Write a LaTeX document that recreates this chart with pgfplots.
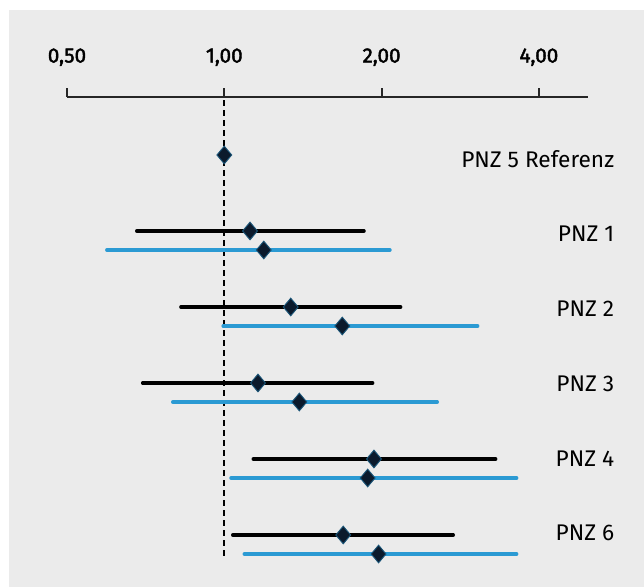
\documentclass[border=0pt]{standalone}
\usepackage{fontspec}
\setmainfont{Fira Sans}
\newfontfamily\tickfont[FakeBold=2]{Fira Sans}
\usepackage{pgfplots}
\pgfplotsset{compat=1.18}
\definecolor{bg}{HTML}{EBEBEB}
\definecolor{pblue}{HTML}{2B9AD3}
\definecolor{navy}{HTML}{0B1A2C}
\begin{document}
\begin{tikzpicture}
\useasboundingbox (-50.25pt,-20.25pt) rectangle (432.75pt,420pt);
\fill[white] (-50.25pt,-20.25pt) rectangle (432.75pt,420pt);
\fill[bg] (-43.5pt,-20.25pt) rectangle (432.75pt,412.5pt);
\begin{axis}[
  at={(0pt,0pt)}, anchor=south west,
  scale only axis, width=390.75pt, height=347.25pt,
  xmode=log, log basis x=2, xmin=0.5, xmax=4.966,
  ymin=-5.329, ymax=0.763,
  axis x line=top, axis y line=none,
  axis line style={-, line width=1.9pt, black!85},
  xtick={0.5,1,2,4}, xticklabels={{0,50},{1,00},{2,00},{4,00}},
  xminorticks=false,
  tick align=outside, major tick length=6.75pt,
  tick style={line width=1.4pt, black!85},
  xticklabel style={font=\tickfont\fontsize{15.5}{18}\selectfont, yshift=13pt},
  clip=false,
]
\addplot[black, line width=1.3pt, dash pattern=on 4.5pt off 3pt] coordinates {(1,0.72) (1,-5.33)};
% black CIs
\addplot[black, line width=2.6pt, line cap=round] coordinates {(0.680,-1) (1.851,-1)};
\addplot[black, line width=2.6pt, line cap=round] coordinates {(0.826,-2) (2.175,-2)};
\addplot[black, line width=2.6pt, line cap=round] coordinates {(0.698,-3) (1.923,-3)};
\addplot[black, line width=2.6pt, line cap=round] coordinates {(1.136,-4) (3.306,-4)};
\addplot[black, line width=2.6pt, line cap=round] coordinates {(1.038,-5) (2.743,-5)};
% blue CIs
\addplot[pblue, line width=2.6pt, line cap=round] coordinates {(0.596,-1.25) (2.075,-1.25)};
\addplot[pblue, line width=2.6pt, line cap=round] coordinates {(0.995,-2.25) (3.054,-2.25)};
\addplot[pblue, line width=2.6pt, line cap=round] coordinates {(0.797,-3.25) (2.556,-3.25)};
\addplot[pblue, line width=2.6pt, line cap=round] coordinates {(1.030,-4.25) (3.626,-4.25)};
\addplot[pblue, line width=2.6pt, line cap=round] coordinates {(1.092,-5.25) (3.626,-5.25)};
% point estimates
\addplot[only marks, mark=diamond*, mark size=6.6pt, mark options={xscale=1.12, fill=navy, draw=pblue!45!navy, line width=0.7pt}]
  coordinates {(1,0) (1.120,-1) (1.340,-2) (1.160,-3) (1.934,-4) (1.689,-5)
               (1.190,-1.25) (1.682,-2.25) (1.392,-3.25) (1.881,-4.25) (1.974,-5.25)};
\begin{scope}[font=\fontsize{17}{20}\selectfont]
\node[anchor=east] at (axis cs:5.69,-0.05) {PNZ 5 Referenz};
\node[anchor=east] at (axis cs:5.69,-1.04) {PNZ 1};
\node[anchor=east] at (axis cs:5.69,-2.02) {PNZ 2};
\node[anchor=east] at (axis cs:5.69,-3.01) {PNZ 3};
\node[anchor=east] at (axis cs:5.69,-4.0) {PNZ 4};
\node[anchor=east] at (axis cs:5.69,-4.97) {PNZ 6};
\end{scope}
\end{axis}
\end{tikzpicture}
\end{document}
